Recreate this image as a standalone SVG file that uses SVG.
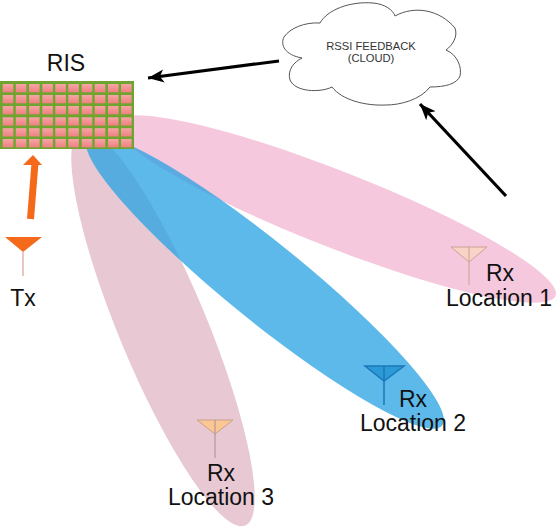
<svg xmlns="http://www.w3.org/2000/svg" width="556" height="528" viewBox="0 0 556 528">
<style>
text{font-family:"Liberation Sans",Arial,sans-serif;fill:#111;text-anchor:middle}
.lb{font-size:23px}
.cl{font-size:11.2px;fill:#333}
.tile{fill:url(#tile)}
.arr{stroke:#000;stroke-width:3.200;fill:none;marker-end:url(#ah)}
</style>
<defs>
<linearGradient id="tile" x1="0" y1="0" x2="0" y2="1"><stop offset="0" stop-color="#f6a5a5"/><stop offset="1" stop-color="#ef8082"/></linearGradient>
<marker id="ah" markerUnits="userSpaceOnUse" markerWidth="20" markerHeight="18" refX="16" refY="9" orient="auto"><path d="M0 2.500L16 9L0 15.500L4 9Z" fill="#000"/></marker>
<g id="row">
<rect x="2.700" width="10.600" height="8.300" class="tile"/><rect x="15.800" width="10.600" height="8.300" class="tile"/><rect x="29" width="10.600" height="8.300" class="tile"/><rect x="42.300" width="10.600" height="8.300" class="tile"/><rect x="55.300" width="10.600" height="8.300" class="tile"/><rect x="68.300" width="10.600" height="8.300" class="tile"/><rect x="81.700" width="10.600" height="8.300" class="tile"/><rect x="94.700" width="10.600" height="8.300" class="tile"/><rect x="108" width="10.600" height="8.300" class="tile"/><rect x="121" width="10.600" height="8.300" class="tile"/>
</g>
</defs>
<g id="beams">
<ellipse cx="163" cy="328" rx="214" ry="44" transform="rotate(67.400 163 328)" fill="#e8c9d3"/>
<ellipse cx="335" cy="209" rx="237" ry="38" transform="rotate(21.500 335 209)" fill="#f5c8dd"/>
<ellipse cx="265" cy="282" rx="228" ry="39" transform="rotate(39 265 282)" fill="#27a1e3" fill-opacity=".75"/>
</g>
<g id="connectors">
<path class="arr" d="M279 61L148 78"/>
<path class="arr" d="M506 196L420 104"/>
<path d="M30.500 219L35 163" stroke="#f4691a" stroke-width="7" fill="none"/>
<path d="M23 165L33 155L42 165Z" fill="#f4691a"/>
</g>
<g id="ris">
<rect x="0" y="81" width="134" height="68" fill="#6fa52f"/>
<use href="#row" y="84"/><use href="#row" y="95"/><use href="#row" y="106"/><use href="#row" y="117.300"/><use href="#row" y="128.200"/><use href="#row" y="139"/>
<text class="lb" x="66" y="71">RIS</text>
</g>
<g id="cloud">
<path d="M320 23C327 10 350 1 373 3C385 4 393 10 395 16C415 5 440 10 455 28C458 36 453 45 446 50C458 55 462 68 460 76C457 84 445 87 430 87C420 100 400 105 386 105C365 106 342 100 332 87C320 93 295 92 290 80C287 70 294 62 302 58C285 55 280 45 284 37C290 28 305 22 320 23Z" fill="#fff" stroke="#555" stroke-width="1"/>
<text class="cl" x="371" y="50">RSSI FEEDBACK</text>
<text class="cl" x="371" y="62">(CLOUD)</text>
</g>
<g id="tx">
<path d="M5 237H42L23 252Z" fill="#f4691a"/>
<path d="M23 252V276" stroke="#e3b3a8" stroke-width="1.500"/>
<text class="lb" x="23" y="306">Tx</text>
</g>
<g id="rx1">
<path d="M451 247H487L469 262Z" fill="#f8d3c8" stroke="#cf9f94" stroke-width="1"/>
<path d="M469 247V285" stroke="#cf9f94" stroke-width="1"/>
<text class="lb" x="500" y="281">Rx</text>
<text class="lb" x="499" y="306">Location 1</text>
</g>
<g id="rx2">
<path d="M365 366H404L384 381Z" fill="#2c9ad6" stroke="#1c78b8" stroke-width="1.500"/>
<path d="M384 366V405" stroke="#1c78b8" stroke-width="1.500"/>
<text class="lb" x="413" y="407">Rx</text>
<text class="lb" x="413" y="431">Location 2</text>
</g>
<g id="rx3">
<path d="M197 420H233L215 434Z" fill="#fbc795" stroke="#c9a08a" stroke-width="1"/>
<path d="M215 420V458" stroke="#a89095" stroke-width="1"/>
<text class="lb" x="221" y="481">Rx</text>
<text class="lb" x="221" y="505">Location 3</text>
</g>
</svg>
